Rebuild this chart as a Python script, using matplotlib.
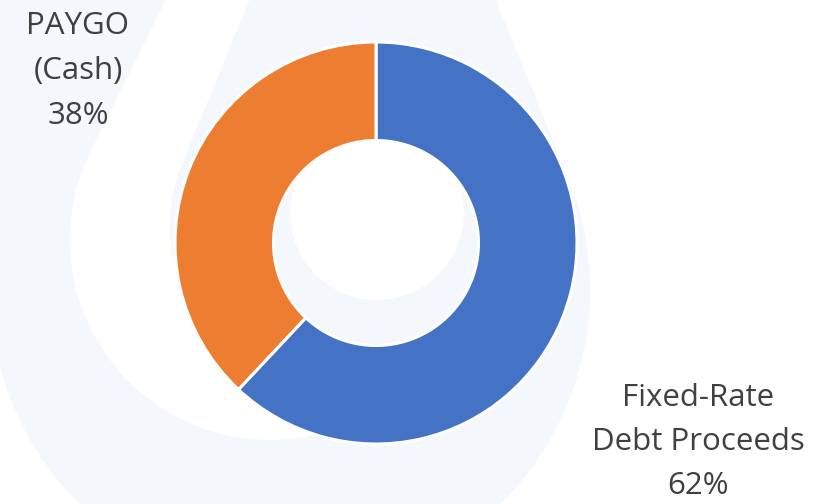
import numpy as np
import matplotlib

matplotlib.use("Agg")
import matplotlib.pyplot as plt
from matplotlib.patches import Polygon, Circle

# data
labels = ["Fixed-Rate\nDebt Proceeds", "PAYGO\n(Cash)"]
shares = [62, 38]
colors = ["#4472c4", "#ed7d31"]

W, H = 828, 504
LIGHT = "#f4f7fb"
TEXT = "#404040"


def droplet(cx, cy, r, tx, ty, n=200):
    # circle (cx, cy, r) joined to a tip (tx, ty) by two tangent lines
    dx, dy = tx - cx, ty - cy
    d = np.hypot(dx, dy)
    phi = np.arctan2(dy, dx)
    beta = np.arccos(r / d)
    a = np.linspace(phi + beta, phi + 2 * np.pi - beta, n)
    pts = np.column_stack([cx + r * np.cos(a), cy + r * np.sin(a)])
    return np.vstack([[tx, ty], pts])


fig = plt.figure(figsize=(W / 100, H / 100), dpi=100)
fig.patch.set_facecolor("white")

# faint watermark behind the chart (pixel coordinates, y down)
bg = fig.add_axes([0, 0, 1, 1])
bg.set_xlim(0, W)
bg.set_ylim(H, 0)
bg.axis("off")
bg.add_patch(Polygon(droplet(290, 290, 300, 290, -505), closed=True,
                     facecolor=LIGHT, edgecolor="none"))
bg.add_patch(Polygon([(-5, -5), (230, -5), (-5, 330)], closed=True,
                     facecolor=LIGHT, edgecolor="none"))
bg.add_patch(Polygon(droplet(270, 240, 200, 270, -210), closed=True,
                     facecolor="white", edgecolor="none"))
bg.add_patch(Polygon(droplet(330, 225, 160, 330, -196), closed=True,
                     facecolor=LIGHT, edgecolor="none"))
bg.add_patch(Circle((377, 213), 87, facecolor="white", edgecolor="none"))

# donut
cx, cy, r = 376, 243, 203
ax = fig.add_axes([(cx - r) / W, (H - cy - r) / H, 2 * r / W, 2 * r / H])
ax.pie(
    shares,
    colors=colors,
    startangle=90,
    counterclock=False,
    radius=1.0,
    wedgeprops={"width": 0.49, "edgecolor": "white", "linewidth": 2.2},
)
ax.set_xlim(-1.01, 1.01)
ax.set_ylim(-1.01, 1.01)
ax.set_aspect("auto")
ax.axis("off")

font = {"family": "Open Sans", "size": 22.5, "color": TEXT}
bg.text(698, 442, f"{labels[0]}\n{shares[0]}%", ha="center", va="center",
        linespacing=1.62, **font)
bg.text(78, 71, f"{labels[1]}\n{shares[1]}%", ha="center", va="center",
        linespacing=1.66, **font)

fig.savefig("out.png", dpi=100)
